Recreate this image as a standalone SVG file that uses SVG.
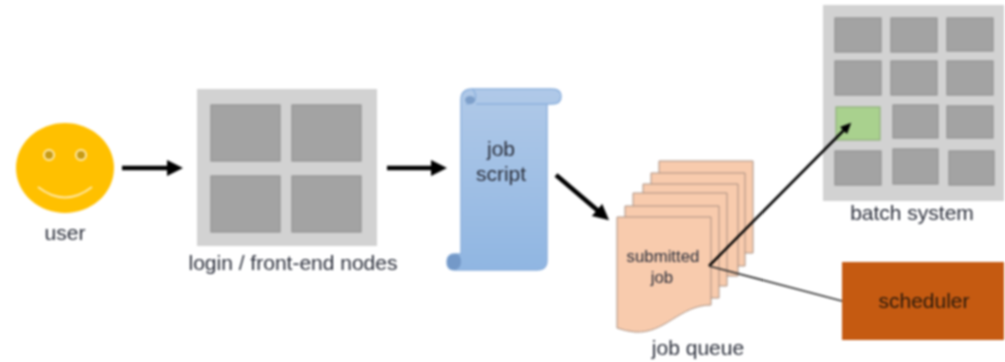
<svg xmlns="http://www.w3.org/2000/svg" width="1005" height="362" viewBox="0 0 1005 362">
<style>
text{font-family:"Liberation Sans",Arial,sans-serif;fill:#2a2e3a;text-anchor:middle}
.lbl{font-size:21px}
.panel{fill:#d2d2d2}
.cell{fill:#a3a3a3;stroke:#919191;stroke-width:1.200}
.on{fill:#a9d18e;stroke:#8fae7b;stroke-width:1.200}
.doc{fill:#f8cbad;stroke:#a88f80;stroke-width:1}
.big{stroke:#000;stroke-width:4.500;fill:none}
</style>
<defs>
<marker id="ah" markerUnits="userSpaceOnUse" markerWidth="18" markerHeight="18" refX="8" refY="8" orient="auto"><path d="M0 0L16 8L0 16z" fill="#000"/></marker>
<marker id="ah2" markerUnits="userSpaceOnUse" markerWidth="12" markerHeight="12" refX="5" refY="5" orient="auto"><path d="M0 0L11 5L0 10z" fill="#000"/></marker>
<linearGradient id="blue" x1="0" y1="0" x2="0" y2="1"><stop offset="0" stop-color="#b0c9e8"/><stop offset="1" stop-color="#90b6e2"/></linearGradient>
<filter id="soft" x="-2%" y="-2%" width="104%" height="104%" color-interpolation-filters="sRGB"><feGaussianBlur stdDeviation="0.8"/></filter>
</defs>
<g filter="url(#soft)">
<g id="user">
<ellipse cx="65" cy="168" rx="49" ry="45" fill="#ffc000"/>
<circle cx="49" cy="155" r="5" fill="#c79a12" stroke="#ffe9a8" stroke-width="2"/>
<circle cx="81" cy="155" r="5" fill="#c79a12" stroke="#ffe9a8" stroke-width="2"/>
<path d="M38 187Q65 208 92 187" fill="none" stroke="#ffe9a8" stroke-width="2"/>
<text class="lbl" x="65" y="240">user</text>
</g>
<g id="login">
<rect class="panel" x="197" y="89" width="180" height="157"/>
<rect class="cell" x="211" y="105" width="69" height="56"/>
<rect class="cell" x="292" y="105" width="69" height="56"/>
<rect class="cell" x="211" y="176" width="69" height="56"/>
<rect class="cell" x="292" y="176" width="69" height="56"/>
<text class="lbl" x="293" y="270">login / front-end nodes</text>
</g>
<g id="script">
<path d="M461 100Q461 89 472 89H552Q561 89 561 96.500Q561 104 552 104H547V260Q547 270 537 270H455Q447 270 447 262Q447 254 455 254H461z" fill="url(#blue)" stroke="#8db1dd" stroke-width="1.500"/>
<path d="M476 104H547" fill="none" stroke="#8db1dd" stroke-width="1.500"/>
<path d="M472 89Q477 93 475 100Q472 104 466 104" fill="none" stroke="#8db1dd" stroke-width="1.500"/>
<ellipse cx="470" cy="100" rx="5" ry="4" fill="#7d9fca"/>
<path d="M455 254Q461 254 461 262Q461 268 455 270Q447 270 447 262Q447 254 455 254z" fill="#7499c8"/>
<text class="lbl" x="501" y="156">job</text>
<text class="lbl" x="501" y="181">script</text>
</g>
<g id="queue">
<path class="doc" d="M659 161H753V253H659z"/>
<path class="doc" d="M651 173H745V266H651z"/>
<path class="doc" d="M643 184H738V276H643z"/>
<path class="doc" d="M633 193H727V286H633z"/>
<path class="doc" d="M625 206H719V298H625z"/>
<path class="doc" d="M617 217H711V305C680 305 665 334 635 332Q625 331 617 328z"/>
<text x="663" y="262" font-size="16.800">submitted</text>
<text x="662" y="283" font-size="16.800">job</text>
<text class="lbl" x="698" y="355">job queue</text>
</g>
<g id="batch">
<rect class="panel" x="823" y="5" width="181" height="196"/>
<rect class="cell" x="835" y="18" width="46" height="34"/>
<rect class="cell" x="891" y="18" width="46" height="34"/>
<rect class="cell" x="947" y="18" width="46" height="33"/>
<rect class="cell" x="835" y="61" width="46" height="34"/>
<rect class="cell" x="891" y="61" width="46" height="34"/>
<rect class="cell" x="947" y="61" width="46" height="34"/>
<rect class="on" x="836" y="107" width="44" height="33"/>
<rect class="cell" x="893" y="105" width="45" height="33"/>
<rect class="cell" x="947" y="106" width="46" height="32"/>
<rect class="cell" x="835" y="151" width="46" height="34"/>
<rect class="cell" x="893" y="149" width="45" height="35"/>
<rect class="cell" x="949" y="151" width="45" height="34"/>
<text class="lbl" x="912" y="220">batch system</text>
</g>
<g id="scheduler">
<rect x="842" y="262" width="162" height="78" fill="#c55a11"/>
<text class="lbl" x="924" y="308" style="fill:#2a1a0c">scheduler</text>
</g>
<g id="connectors">
<line class="big" x1="122" y1="168" x2="175" y2="168" marker-end="url(#ah)"/>
<line class="big" x1="387" y1="168" x2="439" y2="168" marker-end="url(#ah)"/>
<line class="big" x1="556" y1="175" x2="603" y2="215" marker-end="url(#ah)"/>
<line x1="709" y1="266" x2="847" y2="127" stroke="#000" stroke-width="2.500" marker-end="url(#ah2)"/>
<line x1="709" y1="266" x2="842" y2="301" stroke="#333" stroke-width="1.800"/>
</g>
</g>
</svg>
